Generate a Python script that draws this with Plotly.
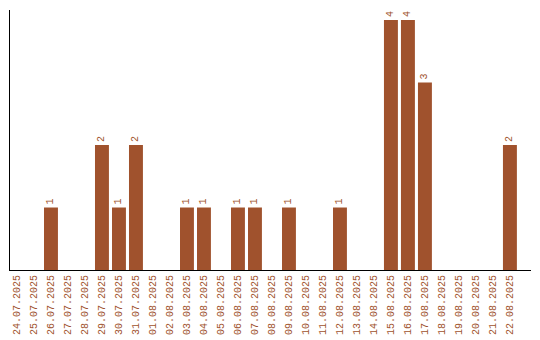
import plotly.graph_objects as go

dates = ["24.07.2025", "25.07.2025", "26.07.2025", "27.07.2025", "28.07.2025",
         "29.07.2025", "30.07.2025", "31.07.2025", "01.08.2025", "02.08.2025",
         "03.08.2025", "04.08.2025", "05.08.2025", "06.08.2025", "07.08.2025",
         "08.08.2025", "09.08.2025", "10.08.2025", "11.08.2025", "12.08.2025",
         "13.08.2025", "14.08.2025", "15.08.2025", "16.08.2025", "17.08.2025",
         "18.08.2025", "19.08.2025", "20.08.2025", "21.08.2025", "22.08.2025"]
counts = [0, 0, 1, 0, 0, 2, 1, 2, 0, 0,
          1, 1, 0, 1, 1, 0, 1, 0, 0, 1,
          0, 0, 4, 4, 3, 0, 0, 0, 0, 2]

color = "#A0522D"
labels = [str(v) if v > 0 else "" for v in counts]

fig = go.Figure(go.Bar(
    x=dates, y=counts, marker_color=color, marker_line_width=0,
    width=0.82, text=labels, textposition="outside", textangle=-90,
    cliponaxis=False,
    textfont=dict(family="Liberation Mono", size=10, color=color),
))
fig.update_layout(
    width=540, height=340, margin=dict(l=10, r=9, t=10, b=70, autoexpand=False),
    plot_bgcolor="white", paper_bgcolor="white", showlegend=False,
    xaxis=dict(type="category", range=[-0.41, 30.24], tickangle=-90, automargin=False,
               showline=True, linecolor="black", linewidth=1, ticks="",
               showgrid=False, tickfont=dict(family="Liberation Mono", size=10, color=color)),
    yaxis=dict(range=[0, 4.16], showline=True, linecolor="black", linewidth=1, automargin=False,
               showticklabels=False, showgrid=False, zeroline=False, ticks=""),
)
fig.write_html("out.html")
